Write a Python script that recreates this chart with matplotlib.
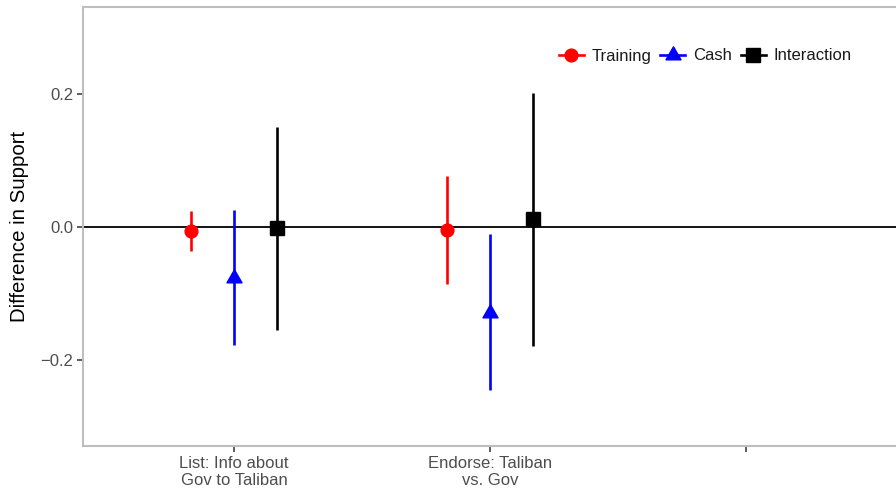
import matplotlib
matplotlib.use("Agg")
import matplotlib.pyplot as plt
import numpy as np
from matplotlib.path import Path
from matplotlib.lines import Line2D

plt.rcParams['font.family'] = ['Liberation Sans', 'DejaVu Sans']

# du lieu doc tu hinh
categories = ["List: Info about\nGov to Taliban", "Endorse: Taliban\nvs. Gov", ""]
treatments = ["Training", "Cash", "Interaction"]

training_est = [-0.006, -0.0056]
training_lo = [-0.036, -0.086]
training_hi = [0.024, 0.076]

cash_est = [-0.078, -0.130]
cash_lo = [-0.1785, -0.245]
cash_hi = [0.0245, -0.0105]

inter_est = [-0.002, 0.011]
inter_lo = [-0.155, -0.179]
inter_hi = [0.150, 0.201]

# tam giac deu (trong tam o goc toa do) giong pch 17
tri = Path([(0, 0.5774), (0.5, -0.2887), (-0.5, -0.2887), (0, 0.5774)],
           [Path.MOVETO, Path.LINETO, Path.LINETO, Path.CLOSEPOLY])

series = [
    (training_est, training_lo, training_hi, "#FF0000", "o", 9.2, -1/6),
    (cash_est, cash_lo, cash_hi, "#0000FF", tri, 12.5, 0.0),
    (inter_est, inter_lo, inter_hi, "#000000", "s", 9.6, 1/6),
]

fig = plt.figure(figsize=(8.96, 4.90), dpi=100)
ax = fig.add_axes([83/896, 1 - 446/490, (899.6 - 83)/896, (446 - 7.3)/490])

ax.axhline(0, color="black", lw=1.3, zorder=1)

leg_handles = []
for (est, lo, hi, col, mk, ms, off), name in zip(series, treatments):
    x = np.arange(1, len(est) + 1) + off
    ax.vlines(x, lo, hi, color=col, lw=1.9, zorder=2)
    ax.plot(x, est, ls="none", marker=mk, ms=ms, color=col, mec=col, zorder=3)
    # handle cho chu thich: duong + marker
    leg_handles.append(Line2D([0], [0], color=col, lw=1.9, marker=mk,
                              ms=ms, mec=col, label=name))

ax.set_xlim(0.41, 3.6)
ax.set_ylim(-0.33, 0.33)
ax.set_xticks([1, 2, 3])
ax.set_xticklabels(categories, fontsize=12, color="#4D4D4D", linespacing=1.15)
ax.set_yticks([-0.2, 0.0, 0.2])
ax.set_yticklabels(["\u22120.2", "0.0", "0.2"], fontsize=12, color="#4D4D4D")
ax.tick_params(axis="both", length=4, width=1.1, color="#333333")
ax.tick_params(axis="x", pad=3)
ax.tick_params(axis="y", pad=3)

for s in ax.spines.values():
    s.set_color("#BEBEBE")
    s.set_linewidth(1.5)

ax.set_ylabel("Difference in Support", fontsize=14.7, color="black", labelpad=8)

fig.legend(handles=leg_handles, loc="center", ncol=3, frameon=False,
           bbox_to_anchor=(705/896, 1 - 56/490), bbox_transform=fig.transFigure,
           fontsize=12, handlelength=1.5, handletextpad=0.45,
           columnspacing=0.55, labelcolor="#1A1A1A")

fig.savefig("out.png", dpi=100, facecolor="white")
